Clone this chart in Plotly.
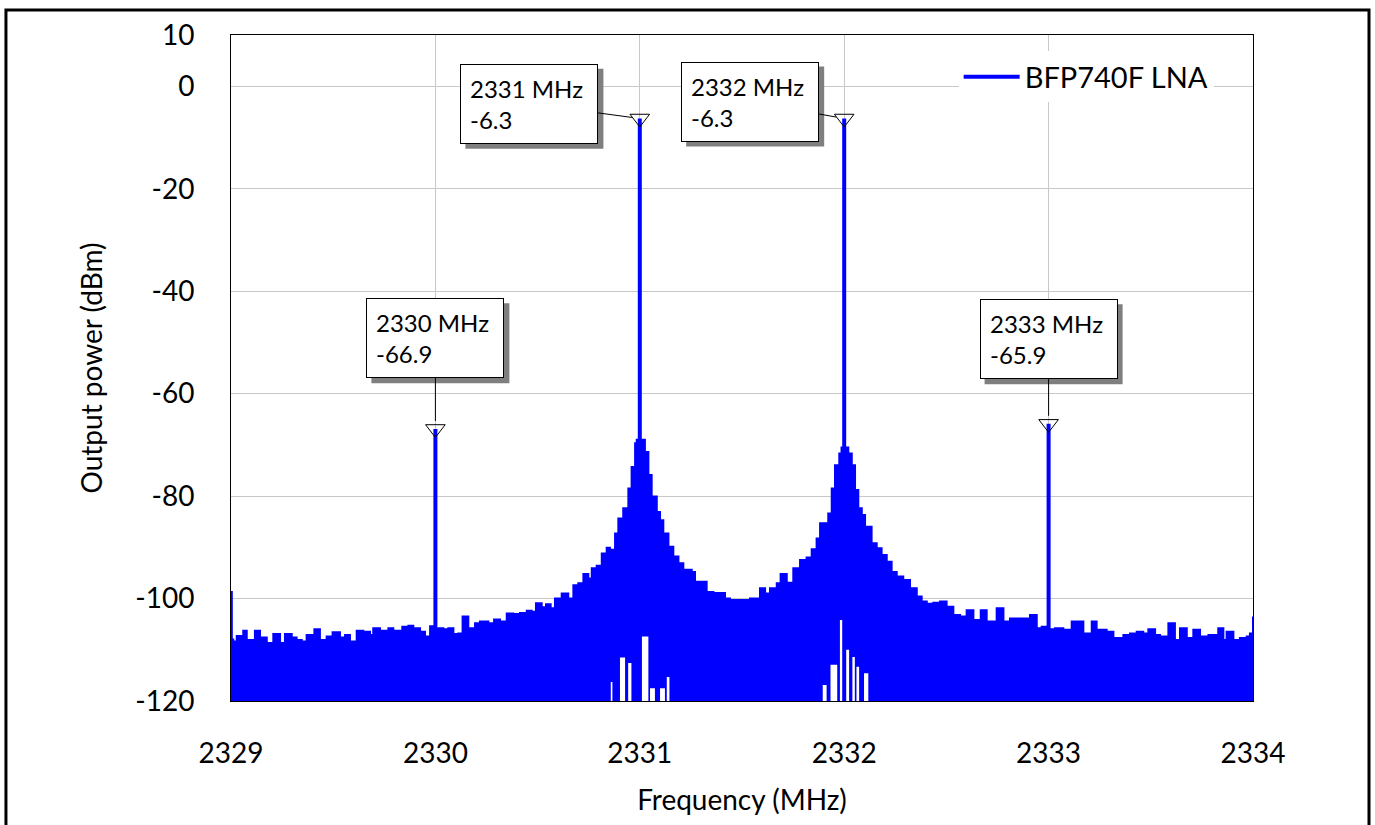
import plotly.graph_objects as go

# ---------------- data ----------------
# Upper envelope of the measured spectrum (frequency in MHz, level in dBm)
NOISE_F = [
    2329.000, 2329.004, 2329.011, 2329.028, 2329.060, 2329.077, 2329.117, 2329.142,
    2329.175, 2329.207, 2329.240, 2329.264, 2329.297, 2329.321, 2329.346, 2329.370,
    2329.408, 2329.435, 2329.468, 2329.497, 2329.533, 2329.558, 2329.582, 2329.615,
    2329.647, 2329.680, 2329.696, 2329.729, 2329.770, 2329.794, 2329.838, 2329.868,
    2329.892, 2329.925, 2329.949, 2329.974, 2329.990, 2330.010, 2330.014, 2330.039,
    2330.063, 2330.088, 2330.112, 2330.133, 2330.161, 2330.194, 2330.218, 2330.259,
    2330.287, 2330.316, 2330.349, 2330.381, 2330.414, 2330.447, 2330.471, 2330.492,
    2330.520, 2330.541, 2330.564, 2330.585, 2330.618, 2330.650, 2330.675, 2330.699,
    2330.724, 2330.748, 2330.765, 2330.789, 2330.814, 2330.838, 2330.854, 2330.879,
    2330.895, 2330.919, 2330.944, 2330.960, 2330.977, 2330.985, 2331.015, 2331.025,
    2331.042, 2331.058, 2331.083, 2331.099, 2331.115, 2331.140, 2331.164, 2331.189,
    2331.213, 2331.254, 2331.270, 2331.311, 2331.327, 2331.360, 2331.392, 2331.417,
    2331.441, 2331.490, 2331.539, 2331.588, 2331.613, 2331.637, 2331.670, 2331.689,
    2331.719, 2331.751, 2331.784, 2331.816, 2331.841, 2331.865, 2331.882, 2331.906,
    2331.922, 2331.939, 2331.955, 2331.976, 2331.987, 2332.013, 2332.020, 2332.037,
    2332.053, 2332.069, 2332.086, 2332.102, 2332.134, 2332.159, 2332.183, 2332.208,
    2332.232, 2332.257, 2332.289, 2332.322, 2332.355, 2332.379, 2332.404, 2332.436,
    2332.469, 2332.501, 2332.534, 2332.567, 2332.599, 2332.632, 2332.668, 2332.697,
    2332.746, 2332.779, 2332.811, 2332.860, 2332.909, 2332.942, 2332.966, 2332.990,
    2333.010, 2333.031, 2333.072, 2333.113, 2333.137, 2333.170, 2333.211, 2333.235,
    2333.284, 2333.317, 2333.366, 2333.398, 2333.431, 2333.463, 2333.488, 2333.521,
    2333.545, 2333.586, 2333.618, 2333.643, 2333.676, 2333.708, 2333.741, 2333.782,
    2333.830, 2333.855, 2333.871, 2333.904, 2333.936, 2333.969, 2333.985, 2333.996,
    2334.000,
]
NOISE_DB = [
    -98.7, -108.0, -108.4, -107.3, -106.3, -108.1, -106.3, -107.6,
    -108.7, -106.9, -108.7, -106.9, -107.6, -108.1, -108.4, -107.1,
    -106.0, -108.1, -107.4, -106.6, -107.6, -107.1, -108.4, -106.3,
    -106.5, -107.1, -105.8, -106.3, -105.8, -106.3, -105.5, -105.3,
    -105.8, -106.5, -107.4, -105.4, -106.0, -106.0, -105.8, -106.0,
    -105.8, -106.9, -106.8, -103.5, -105.8, -104.8, -104.5, -104.8,
    -104.1, -104.5, -102.9, -103.0, -102.8, -102.4, -102.6, -100.9,
    -101.7, -101.1, -101.9, -100.0, -99.0, -100.0, -97.4, -97.0,
    -95.2, -96.1, -94.1, -93.6, -91.2, -90.1, -90.5, -87.3,
    -84.4, -82.4, -78.5, -74.3, -69.7, -69.0, -69.0, -71.4,
    -75.9, -80.1, -83.1, -84.7, -87.3, -89.9, -91.8, -93.1,
    -94.4, -94.8, -96.7, -96.7, -98.7, -98.9, -98.9, -100.0,
    -100.3, -100.3, -100.0, -98.0, -99.0, -98.0, -97.0, -95.2,
    -96.9, -94.1, -92.5, -92.0, -90.4, -88.3, -85.3, -85.3,
    -83.4, -78.5, -74.0, -71.7, -70.5, -70.5, -71.7, -74.0,
    -78.8, -82.4, -83.7, -86.0, -89.2, -90.2, -91.5, -92.8,
    -94.8, -95.7, -96.4, -98.0, -99.6, -100.6, -101.0, -100.8,
    -100.6, -101.6, -103.2, -103.5, -102.3, -104.2, -102.3, -104.5,
    -101.9, -104.5, -103.9, -103.9, -103.2, -105.8, -105.5, -106.0,
    -106.0, -105.8, -106.1, -104.5, -104.5, -106.8, -104.5, -106.1,
    -106.5, -107.7, -107.1, -106.8, -106.5, -106.8, -106.0, -107.1,
    -107.4, -104.8, -108.1, -105.8, -107.7, -106.1, -107.4, -107.1,
    -105.8, -108.1, -106.5, -108.1, -107.7, -107.4, -106.8, -106.8,
    -103.5,
]

# Places near the carriers where the trace minimum stays above the axis floor
GAP_START = [2330.858, 2330.903, 2330.943, 2331.009, 2331.050, 2331.099, 2331.132,
             2331.895, 2331.933, 2331.979, 2332.003, 2332.040, 2332.060, 2332.097]
GAP_END = [2330.866, 2330.928, 2330.959, 2331.042, 2331.074, 2331.123, 2331.145,
           2331.914, 2331.966, 2331.995, 2332.024, 2332.052, 2332.073, 2332.118]
GAP_LEVEL = [-116.3, -111.5, -112.6, -107.4, -117.5, -117.5, -115.3,
             -116.9, -112.9, -104.2, -110.0, -111.4, -113.3, -114.6]

# Marked tones
CARRIER_F = [2330, 2331, 2332, 2333]
CARRIER_DB = [-66.9, -6.3, -6.3, -65.9]

SERIES_NAME = "BFP740F LNA"
X_TICKS = [2329, 2330, 2331, 2332, 2333, 2334]
Y_TICKS = [10, 0, -20, -40, -60, -80, -100, -120]
Y_TICK_TEXT = ["10", "0", "-20", "-40", "-60", "-80", "-100", "-120"]
X_TITLE = "Frequency (MHz)"
Y_TITLE = "Output power (dBm)"

# ---------------- styling / layout ----------------
FONT = "Lato"
BLUE = "rgb(0,0,255)"
FLOOR = -125  # below the visible axis range

# marker label box centres (layout placement) and box geometry in px
BOX_CENTERS = [(2330.0, -49.2), (2330.46, -3.4), (2331.54, -3.0), (2333.0, -49.4)]
BOX_W, BOX_H, BOX_PAD, SHADOW = 118, 60, 9, 5
FULL_W = BOX_W + 2 * BOX_PAD + 2
FULL_H = BOX_H + 2 * BOX_PAD + 2

fig = go.Figure()

# lower envelope (floor with gaps)
low_x = [X_TICKS[0]]
low_y = [FLOOR]
for s, e, lv in zip(GAP_START, GAP_END, GAP_LEVEL):
    low_x += [s, e]
    low_y += [lv, FLOOR]
low_x.append(X_TICKS[-1])
low_y.append(FLOOR)

fig.add_trace(go.Scatter(x=low_x, y=low_y, mode="lines", line=dict(width=0, shape="hv"),
                         showlegend=False, hoverinfo="skip"))
fig.add_trace(go.Scatter(x=NOISE_F, y=NOISE_DB, mode="lines", fill="tonexty",
                         fillcolor=BLUE, line=dict(color=BLUE, width=2, shape="hv"),
                         showlegend=False))

# carrier spikes
cx, cy = [], []
for f, d in zip(CARRIER_F, CARRIER_DB):
    cx += [f, f, None]
    cy += [FLOOR, d, None]
fig.add_trace(go.Scatter(x=cx, y=cy, mode="lines", line=dict(color=BLUE, width=4),
                         name=SERIES_NAME, showlegend=True))

# marker triangles
fig.add_trace(go.Scatter(x=CARRIER_F, y=CARRIER_DB, mode="markers",
                         marker=dict(symbol="triangle-down-open", size=17, color="black",
                                     line=dict(width=1, color="black")),
                         showlegend=False, cliponaxis=False))

ann_font = dict(family=FONT, size=24, color="black")
for f, d, (bx, by) in zip(CARRIER_F, CARRIER_DB, BOX_CENTERS):
    # drop shadow of the marker label
    fig.add_shape(type="rect", xref="x", yref="y", xsizemode="pixel", ysizemode="pixel",
                  xanchor=bx, yanchor=by,
                  x0=-FULL_W / 2 + SHADOW, x1=FULL_W / 2 + SHADOW,
                  y0=-FULL_H / 2 - SHADOW, y1=FULL_H / 2 - SHADOW,
                  fillcolor="#7f7f7f", line=dict(width=0), layer="above")
    fig.add_annotation(x=f, y=d, xref="x", yref="y", ax=bx, ay=by, axref="x", ayref="y",
                       text=f"{f} MHz<br>{d}", showarrow=True, arrowhead=0, arrowwidth=1,
                       arrowcolor="black", standoff=8, bgcolor="white",
                       bordercolor="black", borderwidth=1, borderpad=BOX_PAD,
                       width=BOX_W, height=BOX_H, align="left", valign="middle",
                       font=ann_font)

# outer frame
fig.add_shape(type="rect", xref="paper", yref="paper", x0=-0.2202, x1=1.1135,
              y0=-0.25, y1=1.0375, line=dict(color="black", width=3), layer="above")

fig.update_layout(
    width=1375, height=825,
    margin=dict(l=231, r=122, t=35, b=124),
    paper_bgcolor="white", plot_bgcolor="white",
    font=dict(family=FONT, size=28, color="black"),
    legend=dict(x=0.712, y=0.937, xanchor="left", yanchor="middle",
                bgcolor="white", borderwidth=0, itemwidth=56, font=dict(size=29)),
)
fig.update_xaxes(range=[2329, 2334], tickvals=X_TICKS, ticktext=[str(v) for v in X_TICKS],
                 showgrid=True, gridcolor="#c8c8c8", gridwidth=1, zeroline=False,
                 showline=True, mirror=True, linecolor="black", linewidth=1,
                 ticks="", ticklabelstandoff=27,
                 title=dict(text=X_TITLE, standoff=22, font=dict(size=28)))
fig.update_yaxes(range=[-120, 10], tickvals=Y_TICKS, ticktext=Y_TICK_TEXT,
                 showgrid=True, gridcolor="#c8c8c8", gridwidth=1, zeroline=False,
                 showline=True, mirror=True, linecolor="black", linewidth=1,
                 ticks="", ticklabelstandoff=30,
                 title=dict(text=Y_TITLE, standoff=24, font=dict(size=28)))

fig.write_html("out.html", config={"displayModeBar": False},
               post_script="document.body.style.margin='0px';")
